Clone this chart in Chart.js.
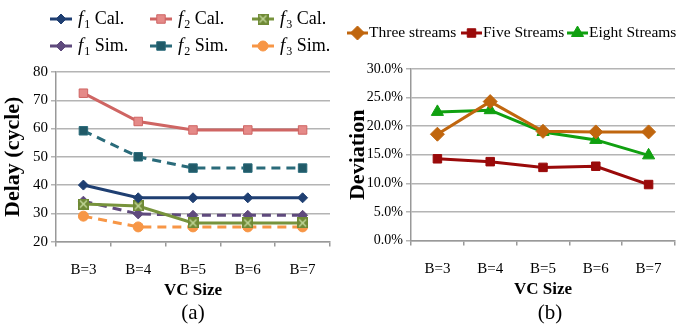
<!DOCTYPE html>
<html>
<head>
<meta charset="utf-8">
<script src="https://cdn.jsdelivr.net/npm/chart.js@4.4.1/dist/chart.umd.min.js"></script>
<style>
  body { margin: 0; background: #fff; }
  #wrap { position: relative; width: 693px; height: 331px; overflow: hidden; }
  canvas { position: absolute; top: 0; }
  .cap { position: absolute; top: 300px; width: 60px; text-align: center;
         font: 21px "Liberation Serif", serif; color: #000; }
</style>
</head>
<body>
<div id="wrap">
  <canvas id="delay" width="345" height="331" style="left:0"></canvas>
  <canvas id="dev" width="348" height="331" style="left:345px"></canvas>
  <div class="cap" style="left:163px">(a)</div>
  <div class="cap" style="left:520px">(b)</div>
</div>
<script>
// x categories, shared by both plots
const vcSizes = ['B=3', 'B=4', 'B=5', 'B=6', 'B=7'];

// (a) delay in cycles
const f1Cal = [40, 35.5, 35.5, 35.5, 35.5];
const f2Cal = [72.5, 62.5, 59.5, 59.5, 59.5];
const f3Cal = [33.3, 32.6, 26.6, 26.6, 26.6];
const f1Sim = [34.3, 29.8, 29.3, 29.3, 29.3];
const f2Sim = [59.2, 50, 46, 46, 46];
const f3Sim = [29, 25.2, 25.2, 25.2, 25.2];

// (b) deviation in percent
const threeStreams = [18.6, 24.3, 19.1, 19.0, 19.0];
const fiveStreams = [14.3, 13.8, 12.8, 13.0, 9.8];
const eightStreams = [22.5, 22.8, 19.0, 17.6, 14.9];

const SERIF = '"Liberation Serif", "Times New Roman", serif';

// green square with a cross for f3 Cal.
function crossBox() {
  const c = document.createElement('canvas');
  c.width = 11; c.height = 11;
  const g = c.getContext('2d');
  g.fillStyle = '#6f8a36';
  g.fillRect(0, 0, 11, 11);
  g.strokeStyle = '#c8dca0';
  g.lineWidth = 1.3;
  g.beginPath();
  g.moveTo(2, 2); g.lineTo(9, 9);
  g.moveTo(9, 2); g.lineTo(2, 9);
  g.stroke();
  return c;
}

// legend drawn like the Excel one: line + marker, then the text
const lineLegend = {
  id: 'lineLegend',
  afterDraw(chart, args, opts) {
    const ctx = chart.ctx;
    chart.data.datasets.forEach((ds, i) => {
      const [x, y] = opts.spots[i];
      const w = opts.swatch;
      ctx.save();
      ctx.strokeStyle = ds.borderColor;
      ctx.lineWidth = 3;
      ctx.setLineDash(ds.borderDash || []);
      ctx.beginPath();
      ctx.moveTo(x, y);
      ctx.lineTo(x + w, y);
      ctx.stroke();
      ctx.setLineDash([]);
      ctx.fillStyle = ds.pointBackgroundColor;
      ctx.strokeStyle = ds.pointBorderColor;
      ctx.lineWidth = 1;
      Chart.helpers.drawPoint(ctx, {
        pointStyle: ds.pointStyle, radius: ds.pointRadius, rotation: 0, borderWidth: 1
      }, x + w / 2, y);

      ctx.fillStyle = '#000';
      ctx.textBaseline = 'middle';
      let tx = x + w + opts.gap;
      const m = ds.label.match(/^f(\d)(.*)$/);
      if (m) {
        ctx.font = 'italic 19px ' + SERIF;
        ctx.fillText('f', tx, y);
        tx += ctx.measureText('f').width + 1;
        ctx.font = '12px ' + SERIF;
        ctx.fillText(m[1], tx, y + 6);
        tx += ctx.measureText(m[1]).width;
        ctx.font = '18px ' + SERIF;
        ctx.fillText(m[2], tx, y);
      } else {
        ctx.font = opts.font;
        ctx.fillText(ds.label, tx, y);
      }
      ctx.restore();
    });
  }
};

function series(label, data, color, style, radius, fill, dash) {
  return {
    label: label,
    data: data,
    borderColor: color,
    borderWidth: 3,
    borderDash: dash || [],
    pointStyle: style,
    pointRadius: radius,
    pointHoverRadius: radius,
    pointBackgroundColor: fill || color,
    pointBorderColor: color,
    pointBorderWidth: 1,
    tension: 0
  };
}

function axes(yMin, yMax, step, fmt, yTitle, yWidth, yTick) {
  return {
    x: {
      offset: true,
      grid: { offset: true, drawOnChartArea: false, color: '#999', tickLength: 5, lineWidth: 1.5 },
      border: { color: '#999', width: 1.5 },
      ticks: { color: '#000', font: { family: SERIF, size: 15 }, padding: 14 },
      title: { display: true, text: 'VC Size', color: '#000',
               font: { family: SERIF, size: 17, weight: 'bold' }, padding: { top: -12, bottom: 0 } }
    },
    y: {
      min: yMin, max: yMax,
      grid: { color: '#b4b4b4', lineWidth: 1.5, tickLength: 5 },
      border: { color: '#999', width: 1.5 },
      ticks: { stepSize: step, color: '#000', font: { family: SERIF, size: yTick },
               padding: 3, callback: fmt },
      title: { display: true, text: yTitle, color: '#000',
               font: { family: SERIF, size: 22, weight: 'bold' }, padding: { top: 0, bottom: 0 } },
      afterFit: (s) => { s.width = yWidth; }
    }
  };
}

new Chart(document.getElementById('delay'), {
  type: 'line',
  data: {
    labels: vcSizes,
    datasets: [
      series('f1 Cal.', f1Cal, '#1f3f72', 'rectRot', 5),
      series('f2 Cal.', f2Cal, '#cf6563', 'rect', 6, '#e58a88'),
      series('f3 Cal.', f3Cal, '#77933c', crossBox(), 6),
      series('f1 Sim.', f1Sim, '#5f4a7d', 'rectRot', 5, null, [9, 6]),
      series('f2 Sim.', f2Sim, '#2a6b7a', 'rect', 6, '#215a68', [9, 6]),
      series('f3 Sim.', f3Sim, '#f79646', 'circle', 5, null, [9, 6])
    ]
  },
  options: {
    responsive: false,
    animation: false,
    layout: { padding: { top: 72, right: 15, bottom: 30, left: 0 } },
    plugins: {
      legend: { display: false },
      tooltip: { enabled: false },
      lineLegend: {
        swatch: 22, gap: 6,
        spots: [[50, 19], [150, 19], [252, 19], [50, 46], [150, 46], [252, 46]]
      }
    },
    scales: axes(20, 80, 10, (v) => v, 'Delay (cycle)', 56, 15)
  },
  plugins: [lineLegend]
});

new Chart(document.getElementById('dev'), {
  type: 'line',
  data: {
    labels: vcSizes,
    datasets: [
      series('Three streams', threeStreams, '#c0660e', 'rectRot', 7),
      series('Five Streams', fiveStreams, '#9a0a0a', 'rect', 6),
      series('Eight Streams', eightStreams, '#10a010', 'triangle', 7)
    ]
  },
  options: {
    responsive: false,
    animation: false,
    layout: { padding: { top: 69, right: 18, bottom: 31, left: 0 } },
    plugins: {
      legend: { display: false },
      tooltip: { enabled: false },
      lineLegend: {
        swatch: 21, gap: 1, font: '15.5px ' + SERIF,
        spots: [[2, 33], [116, 33], [222, 33]]
      }
    },
    scales: axes(0, 30, 5, (v) => v.toFixed(1) + '%', 'Deviation', 66, 14)
  },
  plugins: [lineLegend]
});
</script>
</body>
</html>
